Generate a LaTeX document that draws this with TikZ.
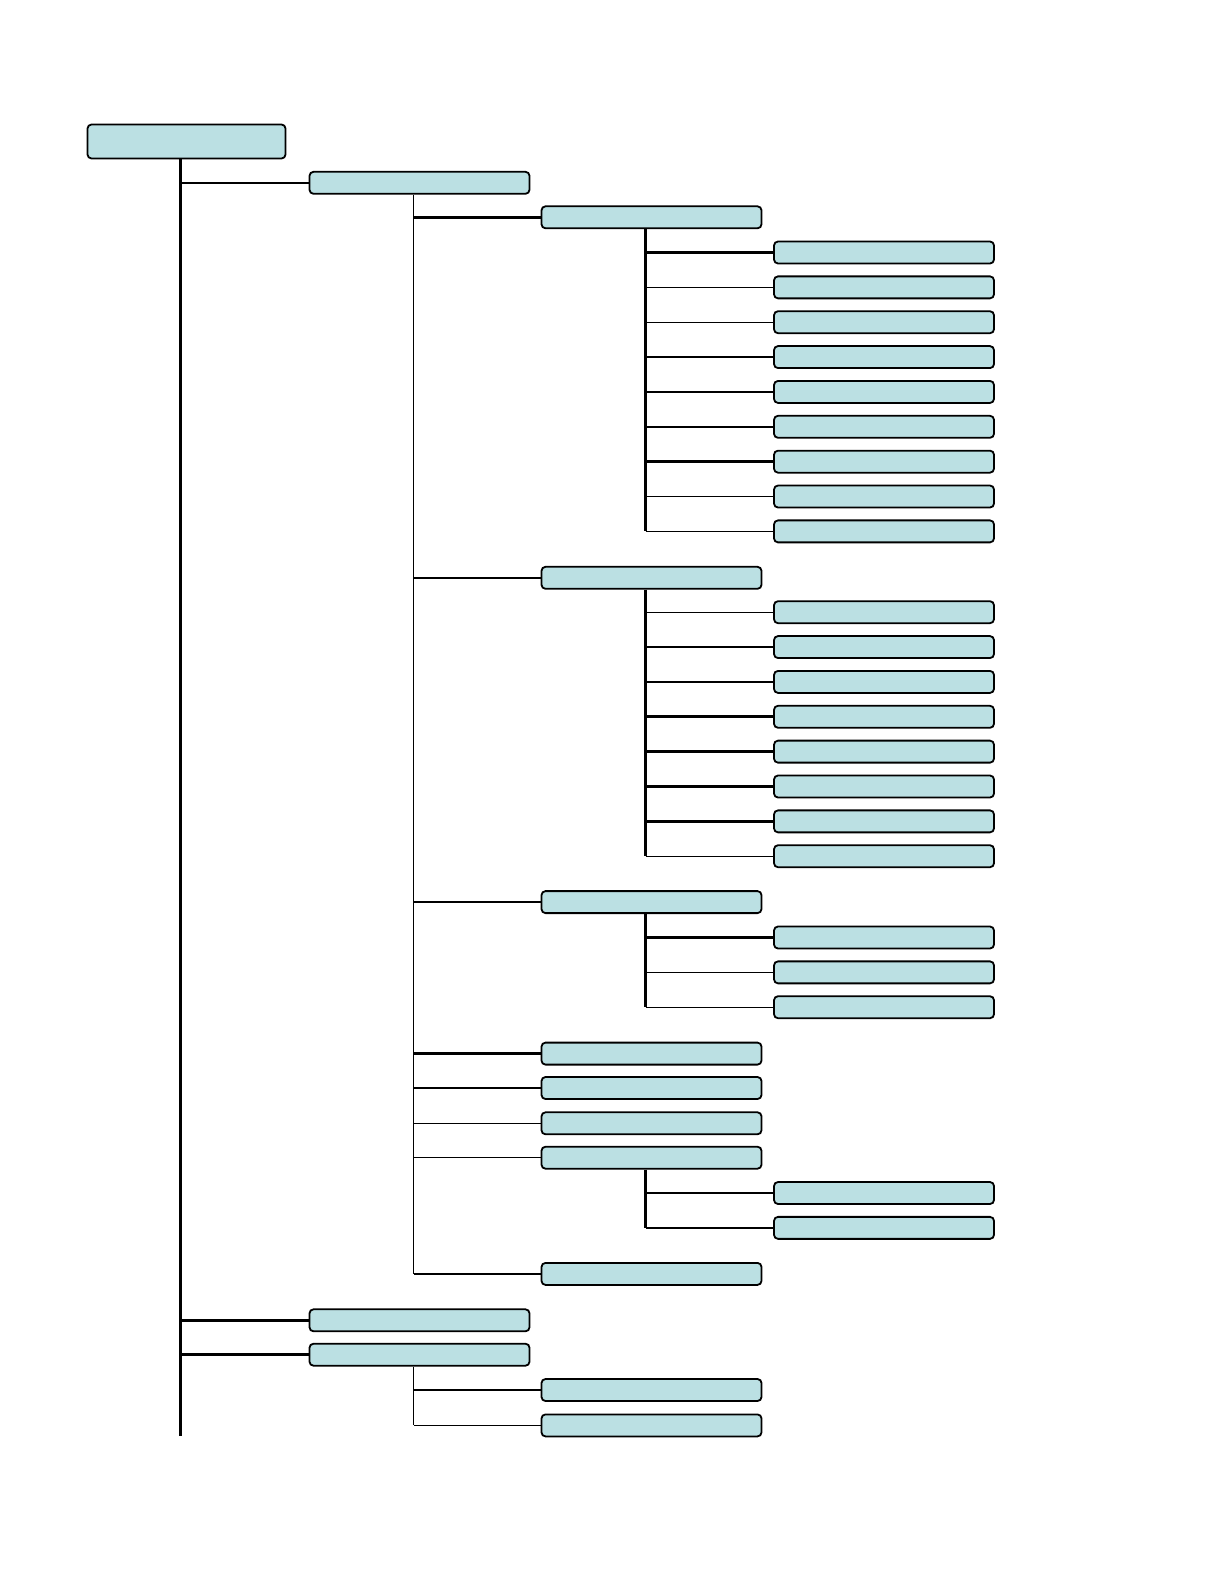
\documentclass[tikz,border=0pt]{standalone}
\usepackage{tikz}
\usetikzlibrary{positioning,calc}
\definecolor{boxTeal}{RGB}{187,224,227}

\begin{document}
\begin{tikzpicture}[x=1pt,y=-1pt,
    box/.style={draw, rounded corners=4pt, fill=boxTeal, line width=1.8pt,
                minimum width=220pt, minimum height=22pt, inner sep=0pt},
    heavy/.style={line width=2.6pt},
    light/.style={line width=1.4pt}]
  \useasboundingbox (0,0) rectangle (1224,1584);
  \def\rowh{34.86}

  % boxes
  \node[box, minimum width=198pt, minimum height=34pt] (root) at (186.5,141.5) {};
  \node[box] (s1) at (419.5,182.8) {};
  \node[box] (s2) at (419.5,1320.3) {};
  \node[box] (s3) at (419.5,1354.7) {};
  \foreach \y/\n in {217.3/a,577.8/b,902.1/c,1053.6/d,1088/e,1123.3/f,1157.7/g,1273.9/h}
    \node[box] (s1\n) at (651.5,\y) {};
  \node[box] (s3a) at (651.5,1390) {};
  \node[box] (s3b) at (651.5,1425.4) {};
  \foreach \i in {1,...,9}
    \node[box] (s1a\i) at (884,{252.5+(\i-1)*\rowh}) {};
  \foreach \i in {1,...,8}
    \node[box] (s1b\i) at (884,{612.2+(\i-1)*\rowh}) {};
  \foreach \i in {1,...,3}
    \node[box] (s1c\i) at (884,{937.5+(\i-1)*\rowh}) {};
  \foreach \i in {1,2}
    \node[box] (s1g\i) at (884,{1193+(\i-1)*\rowh}) {};

  % trunks
  \foreach \p in {root,s1,s3,s1a,s1b,s1c,s1g}
    \coordinate (t\p) at ([xshift=-6pt]\p.south);
  \coordinate (trootend) at (troot |- 0,1436);
  \draw[heavy] (troot) -- (trootend);
  \draw[light] (ts1) -- (ts1 |- s1h.west);
  \draw[light] (ts3) -- (ts3 |- s3b.west);
  \draw[heavy] (ts1a) -- (ts1a |- s1a9.west);
  \draw[heavy] (ts1b) -- (ts1b |- s1b8.west);
  \draw[heavy] (ts1c) -- (ts1c |- s1c3.west);
  \draw[heavy] (ts1g) -- (ts1g |- s1g2.west);

  % connectors
  \foreach \c in {s1,s2,s3}
    \draw[heavy] (troot |- \c.west) -- (\c.west);
  \foreach \n/\w in {a/heavy,b/heavy,c/heavy,d/heavy,e/heavy,f/light,g/light,h/light}
    \draw[\w] (ts1 |- s1\n.west) -- (s1\n.west);
  \draw[heavy] (ts3 |- s3a.west) -- (s3a.west);
  \draw[light] (ts3 |- s3b.west) -- (s3b.west);
  \foreach \i/\w in {1/heavy,2/light,3/light,4/heavy,5/heavy,6/heavy,7/heavy,8/light,9/light}
    \draw[\w] (ts1a |- s1a\i.west) -- (s1a\i.west);
  \foreach \i/\w in {1/light,2/light,3/light,4/heavy,5/heavy,6/heavy,7/heavy,8/light}
    \draw[\w] (ts1b |- s1b\i.west) -- (s1b\i.west);
  \foreach \i/\w in {1/heavy,2/light,3/light}
    \draw[\w] (ts1c |- s1c\i.west) -- (s1c\i.west);
  \foreach \i in {1,2}
    \draw[heavy] (ts1g |- s1g\i.west) -- (s1g\i.west);
\end{tikzpicture}
\end{document}
